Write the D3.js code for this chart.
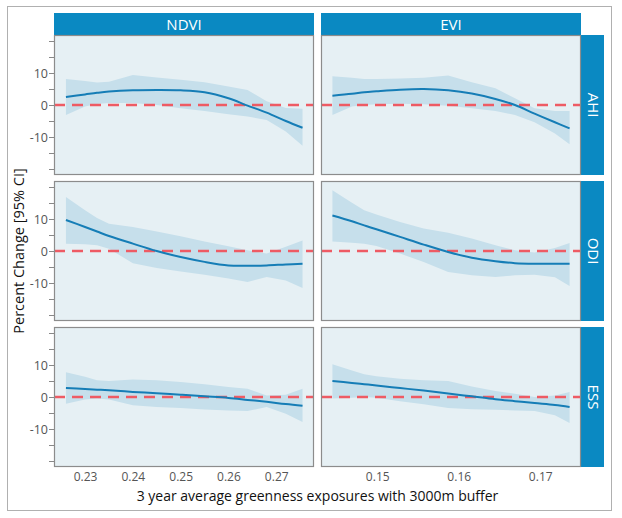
<!DOCTYPE html>
<html>
<head>
<meta charset="utf-8">
<script src="https://cdn.jsdelivr.net/npm/d3@7"></script>
<style>
  body { margin: 0; background: #fff; }
  svg { font-family: "Open Sans", "Noto Sans", sans-serif; }
</style>
</head>
<body>
<svg id="chart" width="622" height="518"></svg>
<script>
// Facet labels
const columns = ["NDVI", "EVI"];
const rows = ["AHI", "ODI", "ESS"];

const ndviX = [0.226, 0.230, 0.2325, 0.235, 0.240, 0.245, 0.250, 0.255, 0.260, 0.264, 0.268, 0.272, 0.2755];
const eviX = [0.1445, 0.1469, 0.1484, 0.1499, 0.1528, 0.1557, 0.1587, 0.1616, 0.1645, 0.1669, 0.1693, 0.1718, 0.1736];

// AHI
const ahiNdviFit = [2.5, 3.3, 3.8, 4.2, 4.6, 4.7, 4.6, 4.0, 2.1, -0.2, -2.4, -5.0, -7.1];
const ahiNdviLo = [-3.1, -0.5, 0.3, 0.6, 0.6, 0.0, -1.0, -1.9, -2.9, -3.6, -4.7, -8.3, -12.7];
const ahiNdviHi = [8.1, 7.5, 7.0, 7.3, 9.4, 8.6, 7.9, 7.1, 5.8, 4.7, 1.2, -0.9, -1.2];
const ahiEviFit = [2.9, 3.5, 4.0, 4.3, 4.8, 5.0, 4.6, 3.6, 1.9, 0.0, -2.7, -5.4, -7.3];
const ahiEviLo = [-3.1, -0.5, 0.0, 0.2, 0.4, 0.2, -0.2, -1.0, -1.9, -3.1, -5.4, -8.9, -12.3];
const ahiEviHi = [9.0, 8.5, 8.1, 8.1, 8.3, 8.5, 9.2, 7.1, 5.2, 2.1, -1.0, -1.9, -1.9];

// ODI
const odiNdviFit = [9.7, 7.5, 6.1, 4.7, 2.3, 0.0, -1.9, -3.4, -4.5, -4.6, -4.5, -4.2, -4.0];
const odiNdviLo = [2.3, 2.1, 1.8, 0.7, -3.8, -5.3, -6.4, -7.4, -8.6, -9.7, -8.1, -9.2, -11.6];
const odiNdviHi = [16.9, 12.7, 10.3, 8.5, 7.5, 6.1, 4.6, 3.0, 1.5, 0.2, -0.8, 1.3, 3.3];
const odiEviFit = [11.1, 9.3, 8.0, 6.8, 4.4, 2.0, -0.3, -2.1, -3.2, -3.8, -4.0, -4.0, -4.0];
const odiEviLo = [3.0, 2.6, 2.3, 1.6, -0.8, -3.4, -6.6, -7.6, -8.1, -7.6, -7.4, -8.2, -10.9];
const odiEviHi = [19.0, 15.1, 12.7, 11.4, 9.1, 7.0, 5.7, 3.9, 1.8, 0.2, -0.5, 0.9, 2.5];

// ESS
const essNdviFit = [2.8, 2.5, 2.3, 2.1, 1.6, 1.2, 0.7, 0.2, -0.3, -0.9, -1.5, -2.2, -2.7];
const essNdviLo = [-2.1, -0.8, -0.5, -0.8, -2.6, -3.1, -3.4, -3.9, -4.2, -4.4, -3.1, -5.2, -7.8];
const essNdviHi = [7.7, 6.3, 5.2, 5.0, 5.5, 5.2, 4.7, 4.0, 3.1, 2.6, 0.5, 0.7, 2.6];
const essEviFit = [5.0, 4.4, 4.0, 3.6, 2.8, 2.0, 1.1, 0.2, -0.7, -1.3, -1.9, -2.5, -3.1];
const essEviLo = [-0.5, -0.2, 0.0, -0.2, -1.3, -2.3, -3.4, -3.8, -4.0, -4.2, -4.4, -5.7, -8.1];
const essEviHi = [10.2, 8.3, 7.1, 6.5, 5.7, 5.2, 5.0, 3.3, 1.9, 1.0, 0.0, 0.5, 1.6];

// Axis ticks
const ndviTicks = [0.23, 0.24, 0.25, 0.26, 0.27];
const eviTicks = [0.15, 0.16, 0.17];
const yTicks = [-20, -15, -10, -5, 0, 5, 10, 15, 20];
const yLabels = [-10, 0, 10];

const xDomains = { NDVI: [0.2235, 0.2779], EVI: [0.1431, 0.1750] };
const xValues = { NDVI: ndviX, EVI: eviX };
const xTicks = { NDVI: ndviTicks, EVI: eviTicks };

const series = {
    AHI: { NDVI: [ahiNdviFit, ahiNdviLo, ahiNdviHi], EVI: [ahiEviFit, ahiEviLo, ahiEviHi] },
    ODI: { NDVI: [odiNdviFit, odiNdviLo, odiNdviHi], EVI: [odiEviFit, odiEviLo, odiEviHi] },
    ESS: { NDVI: [essNdviFit, essNdviLo, essNdviHi], EVI: [essEviFit, essEviLo, essEviHi] }
};

const panelW = 260, panelH = 140;
const colLeft = [54, 321];
const rowTop = [35, 181, 327];
const stripBlue = "#0a89c2";

const svg = d3.select("#chart");

// Outer frame
svg.append("rect")
    .attr("x", 7.5).attr("y", 6.5)
    .attr("width", 604).attr("height", 504)
    .attr("fill", "none")
    .attr("stroke", "#b0b0b0");

const y = d3.scaleLinear().domain([-21.875, 21.875]).range([panelH, 0]);

// Top strips
columns.forEach((col, c) => {
    const g = svg.append("g").attr("transform", `translate(${colLeft[c]},13)`);
    g.append("rect").attr("width", panelW).attr("height", 22).attr("fill", stripBlue);
    g.append("text")
        .attr("x", panelW / 2).attr("y", 16.5)
        .attr("text-anchor", "middle")
        .attr("fill", "#fff")
        .attr("font-size", 15)
        .text(col);
});

// Right strips
rows.forEach((row, r) => {
    const g = svg.append("g").attr("transform", `translate(581,${rowTop[r]})`);
    g.append("rect").attr("width", 23).attr("height", panelH).attr("fill", stripBlue);
    g.append("text")
        .attr("transform", `translate(6.5,${panelH / 2}) rotate(90)`)
        .attr("text-anchor", "middle")
        .attr("fill", "#fff")
        .attr("font-size", 15)
        .text(row);
});

rows.forEach((row, r) => {
    columns.forEach((col, c) => {
        const x = d3.scaleLinear().domain(xDomains[col]).range([0, panelW]);
        const xs = xValues[col];
        const [fit, lo, hi] = series[row][col];
        const pts = xs.map((v, i) => ({ x: v, fit: fit[i], lo: lo[i], hi: hi[i] }));

        const g = svg.append("g").attr("transform", `translate(${colLeft[c]},${rowTop[r]})`);

        g.append("rect")
            .attr("width", panelW).attr("height", panelH)
            .attr("fill", "#e6f0f4");

        // Confidence band
        const area = d3.area()
            .x(d => x(d.x))
            .y0(d => y(d.lo))
            .y1(d => y(d.hi));
        g.append("path")
            .datum(pts)
            .attr("d", area)
            .attr("fill", "#c6dfeb");

        // Null reference line
        g.append("line")
            .attr("x1", 0).attr("x2", panelW)
            .attr("y1", y(0)).attr("y2", y(0))
            .attr("stroke", "#ee5b64")
            .attr("stroke-width", 2.6)
            .attr("stroke-dasharray", "11,7");

        // Fitted curve
        const line = d3.line()
            .x(d => x(d.x))
            .y(d => y(d.fit))
            .curve(d3.curveCatmullRom);
        g.append("path")
            .datum(pts)
            .attr("d", line)
            .attr("fill", "none")
            .attr("stroke", "#157db6")
            .attr("stroke-width", 2);

        g.append("rect")
            .attr("x", 0.5).attr("y", 0.5)
            .attr("width", panelW - 1).attr("height", panelH - 1)
            .attr("fill", "none")
            .attr("stroke", "#8c8c8c")
            .attr("stroke-width", 1.2);

        // Y axis on the left column
        if (c === 0) {
            const yAxis = d3.axisLeft(y)
                .tickValues(yTicks)
                .tickSize(5)
                .tickFormat(d => yLabels.includes(d) ? d : "");
            const ay = g.append("g").call(yAxis);
            ay.select(".domain").remove();
            ay.selectAll(".tick line").attr("stroke", "#888");
            ay.selectAll(".tick text")
                .attr("fill", "#555")
                .attr("font-size", 12.5)
                .attr("font-family", "Open Sans, sans-serif")
                .attr("x", -6);
        }

        // X axis on the bottom row
        if (r === rows.length - 1) {
            const xAxis = d3.axisBottom(x)
                .tickValues(xTicks[col])
                .tickSize(0)
                .tickPadding(5)
                .tickFormat(d3.format(".2f"));
            const ax = g.append("g").attr("transform", `translate(0,${panelH})`).call(xAxis);
            ax.select(".domain").remove();
            ax.selectAll(".tick text")
                .attr("fill", "#555")
                .attr("font-size", 12)
                .attr("font-family", "Open Sans, sans-serif");
        }
    });
});

// Axis titles
svg.append("text")
    .attr("x", (colLeft[0] + colLeft[1] + panelW) / 2)
    .attr("y", 501)
    .attr("text-anchor", "middle")
    .attr("font-size", 14)
    .attr("fill", "#111")
    .text("3 year average greenness exposures with 3000m buffer");

svg.append("text")
    .attr("transform", `translate(24,${rowTop[0] + (rowTop[2] + panelH - rowTop[0]) / 2}) rotate(-90)`)
    .attr("text-anchor", "middle")
    .attr("font-size", 14.5)
    .attr("fill", "#111")
    .text("Percent Change [95% CI]");
</script>
</body>
</html>
